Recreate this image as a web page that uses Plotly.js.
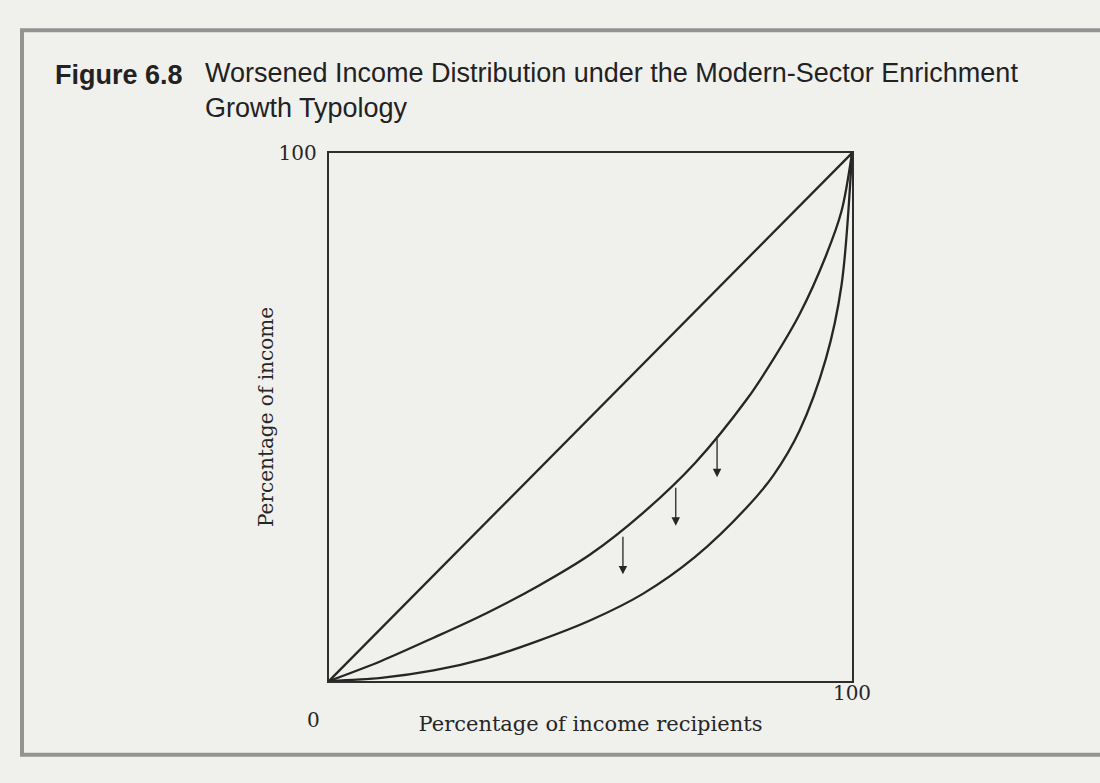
<!DOCTYPE html>
<html>
<head>
<meta charset="utf-8">
<script src="https://cdn.plot.ly/plotly-3.0.1.min.js"></script>
<style>
  html, body { margin: 0; padding: 0; background: #efefec; }
  #chart { width: 1100px; height: 783px; }
</style>
</head>
<body>
<div id="chart"></div>
<script>
// Percentage of income recipients (cumulative)
const recipients = [0, 10, 20, 30, 40, 50, 60, 70, 80, 85, 90, 95, 98, 100];
// Line of equality
const equalityX = [0, 100];
const equalityY = [0, 100];
// Original Lorenz curve (before modern-sector enrichment growth)
const originalIncome = [0, 3.8, 8.2, 12.8, 18, 24, 31.8, 41.3, 53.5, 61, 69.5, 80.5, 89, 100];
// Worsened Lorenz curve (after growth)
const worsenedIncome = [0, 0.6, 2.0, 4.3, 7.6, 11.5, 16.5, 23.5, 33, 39, 47.5, 61, 75, 100];
// Shift arrows: start on original curve, pointing down
const arrowX = [56.2, 66.3, 74.2];
const arrowFrom = [27.6, 36.9, 46.1];
const arrowTo = [20.2, 29.4, 38.6];

const ink = '#262626';
const serif = 'DejaVu Serif, Liberation Serif, serif';

const traces = [
  { x: equalityX, y: equalityY, mode: 'lines', line: { color: ink, width: 2.3 }, hoverinfo: 'skip' },
  { x: recipients, y: originalIncome, mode: 'lines', line: { color: ink, width: 2.3, shape: 'spline', smoothing: 0.9 }, hoverinfo: 'skip' },
  { x: recipients, y: worsenedIncome, mode: 'lines', line: { color: ink, width: 2.3, shape: 'spline', smoothing: 0.9 }, hoverinfo: 'skip' }
];

const annotations = arrowX.map((x, i) => ({
  x: x, y: arrowTo[i], ax: x, ay: arrowFrom[i],
  xref: 'x', yref: 'y', axref: 'x', ayref: 'y',
  text: '', showarrow: true, arrowhead: 2, arrowsize: 1.3, arrowwidth: 1.3, arrowcolor: ink
}));

annotations.push(
  { text: '0', xref: 'x', yref: 'paper', x: 0, y: 0, xshift: -16, yshift: -53, showarrow: false,
    font: { family: serif, size: 20, color: ink } },
  { text: '<b>Figure 6.8</b>', xref: 'paper', yref: 'paper', x: (53 - 329) / 523, y: (681 - 74) / 529,
    xanchor: 'left', yanchor: 'middle', showarrow: false,
    font: { family: 'Liberation Sans, Arial, sans-serif', size: 27, color: '#222' } },
  { text: 'Worsened Income Distribution under the Modern-Sector Enrichment<br>Growth Typology',
    xref: 'paper', yref: 'paper', x: (203 - 329) / 523, y: (681 - 55) / 529,
    xanchor: 'left', yanchor: 'top', align: 'left', showarrow: false,
    font: { family: 'Liberation Sans, Arial, sans-serif', size: 27, color: '#222' } }
);

const layout = {
  width: 1100, height: 783,
  margin: { l: 329, r: 248, t: 153, b: 102, pad: 0 },
  paper_bgcolor: '#f0f0ed',
  plot_bgcolor: '#f0f0ed',
  showlegend: false,
  xaxis: {
    range: [0, 100], showgrid: false, zeroline: false, showline: true, mirror: true,
    linecolor: '#2e2e2e', linewidth: 2.2, ticks: '', tickvals: [100], ticktext: ['100'],
    ticklabelstandoff: -7,
    tickfont: { family: serif, size: 20, color: ink },
    title: { text: 'Percentage of income recipients', standoff: 12, font: { family: serif, size: 21, color: ink } },
    fixedrange: true
  },
  yaxis: {
    range: [0, 100], showgrid: false, zeroline: false, showline: true, mirror: true,
    linecolor: '#2e2e2e', linewidth: 2.2, ticks: '', tickvals: [100], ticktext: ['100'],
    ticklabelstandoff: 6,
    tickfont: { family: serif, size: 20, color: ink },
    title: { text: 'Percentage of income', standoff: 0, font: { family: serif, size: 20, color: ink } },
    fixedrange: true
  },
  annotations: annotations,
  shapes: [
    { type: 'rect', xref: 'paper', yref: 'paper',
      x0: (22 - 329) / 523, x1: (1115 - 329) / 523,
      y0: (681 - 755) / 529, y1: (681 - 29) / 529,
      line: { color: '#939393', width: 4 }, layer: 'below' }
  ]
};

Plotly.newPlot('chart', traces, layout, { displayModeBar: false, staticPlot: true });
</script>
</body>
</html>
